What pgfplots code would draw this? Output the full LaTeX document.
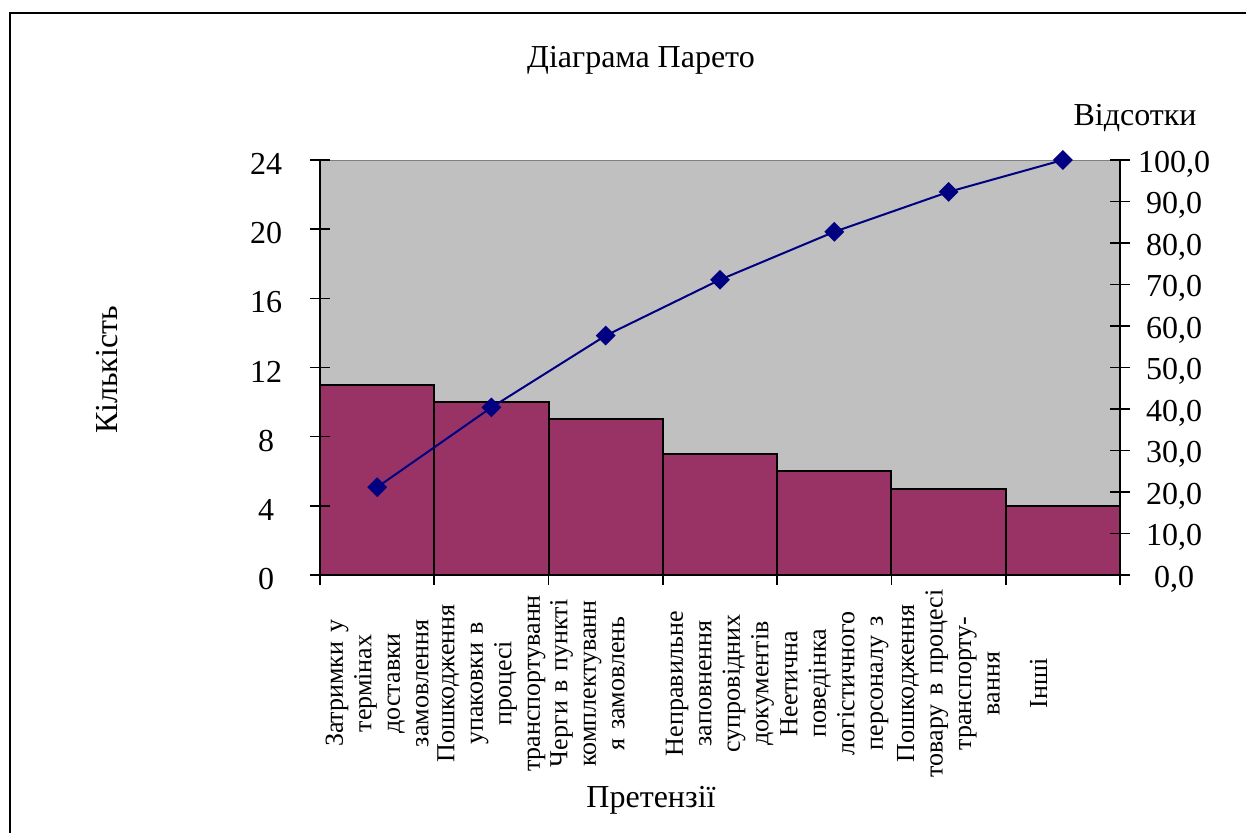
\documentclass[border=0pt]{standalone}
\usepackage{fontspec}
\setmainfont{Liberation Serif}
\usepackage{pgfplots}
\pgfplotsset{compat=1.18}
\definecolor{barc}{HTML}{993366}
\definecolor{bgc}{HTML}{C0C0C0}
\definecolor{linec}{HTML}{000080}
\begin{document}
\begin{tikzpicture}
\path[use as bounding box] (0,0) rectangle (623pt,416.5pt);
\draw[line width=1pt] (5pt,0) -- (5pt,410pt) -- (623pt,410pt);
\pgfplotsset{
  common/.style={
    at={(160pt,129pt)}, anchor=south west, scale only axis,
    width=400pt, height=207.5pt,
    xmin=-0.5, xmax=6.5,
    tick label style={font=\fontsize{16}{19}\selectfont},
    /pgf/number format/assume math mode=true,
    axis line style={black, line width=0.8pt},
    every tick/.style={black, line width=0.8pt},
  }
}
% bars
\begin{axis}[common,
  ymin=0, ymax=24,
  ybar, bar width=1,
  axis background/.style={fill=bgc, draw=gray},
  axis x line*=bottom, axis y line*=left,
  tick align=outside, major tick length=5pt,
  ytick={0,4,...,24},
  ytick style={draw=none},
  yticklabel style={anchor=center, xshift=-22pt, yshift=-2pt},
  xtick={-0.5,0.5,...,6.5},
  x tick label as interval,
  xticklabels={
    {Затримки у\\термінах\\доставки\\замовлення},
    {Пошкодження\\упаковки в\\процесі\\транспортуванн},
    {Черги в пункті\\комплектуванн\\я замовлень\\\strut},
    {Неправильне\\заповнення\\супровідних\\документів},
    {Неетична\\поведінка\\логістичного\\персоналу з},
    {Пошкодження\\товару в процесі\\транспорту-\\вання},
    {Інші\\[5.75pt]\strut}},
  xticklabel style={yshift=-1pt, font=\fontsize{13}{14.25}\selectfont, rotate=90, anchor=east, text width=96pt, align=center, inner sep=0pt},
]
\addplot[fill=barc, draw=black, line width=1pt] coordinates {(0,11) (1,10) (2,9) (3,7) (4,6) (5,5) (6,4)};
\end{axis}
% left ticks crossing the axis
\begin{axis}[common,
  ymin=0, ymax=24,
  hide x axis, axis y line*=left,
  tick align=center, major tick length=10pt,
  ytick={0,4,...,24}, yticklabels={},
]
\end{axis}
% cumulative percentage
\begin{axis}[common,
  ymin=0, ymax=100, clip=false,
  hide x axis, axis y line*=right,
  tick align=center, major tick length=10pt,
  ytick={0,10,...,100},
  yticklabels={{0,0},{10,0},{20,0},{30,0},{40,0},{50,0},{60,0},{70,0},{80,0},{90,0},{100,0}},
  yticklabel style={anchor=center, xshift=22pt, yshift=-2pt},
]
\addplot[linec, line width=1pt, mark=square*, mark size=3pt, mark options={rotate=45, fill=linec, solid}] coordinates {(0,21.15) (1,40.38) (2,57.69) (3,71.15) (4,82.69) (5,92.31) (6,100)};
\end{axis}
\node[font=\fontsize{16}{19}\selectfont] at (320.5pt,386.5pt) {Діаграма Парето};
\node[font=\fontsize{16}{19}\selectfont] at (567.5pt,357.5pt) {Відсотки};
\node[font=\fontsize{16}{19}\selectfont, rotate=90] at (53.5pt,231.5pt) {Кількість};
\node[font=\fontsize{16}{19}\selectfont] at (325.5pt,16.5pt) {Претензії};
\end{tikzpicture}
\end{document}
